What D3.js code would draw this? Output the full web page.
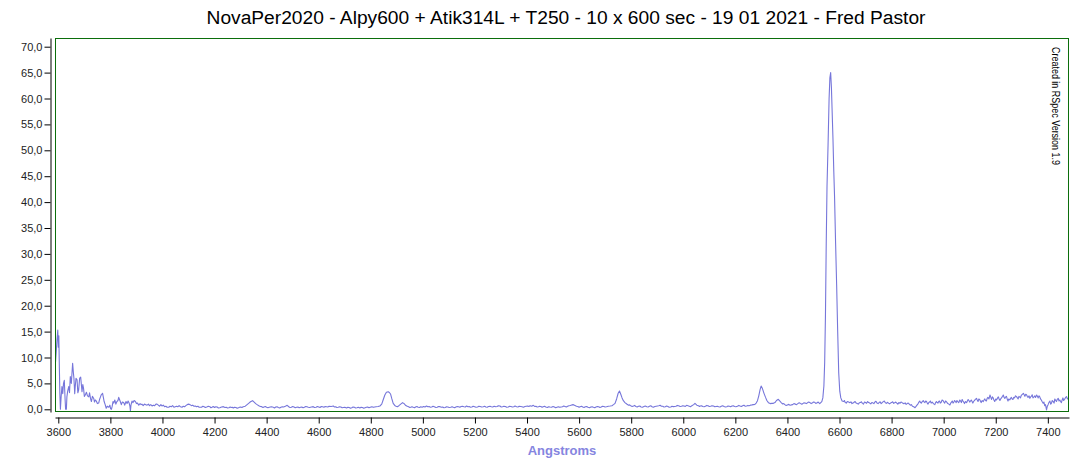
<!DOCTYPE html>
<html>
<head>
<meta charset="utf-8">
<script src="https://cdn.jsdelivr.net/npm/d3@7"></script>
<style>
  html, body { margin: 0; padding: 0; background: #fff; }
  svg { display: block; font-family: "Liberation Sans", Arial, sans-serif; }
</style>
</head>
<body>
<svg id="chart" width="1071" height="461"></svg>
<script>
const titleText = "NovaPer2020 - Alpy600 + Atik314L + T250 - 10 x 600 sec - 19 01 2021 - Fred Pastor";
const xLabel = "Angstroms";
const creditText = "Created in RSpec Version 1.9";
const xTicks = [3600,3800,4000,4200,4400,4600,4800,5000,5200,5400,5600,5800,6000,6200,6400,6600,6800,7000,7200,7400];
const yTicks = [0,5,10,15,20,25,30,35,40,45,50,55,60,65,70];
const xDomain = [3587.3, 7481.3];
const yDomain = [-0.52, 71.68];

// [wavelength (Angstrom), relative flux]
const blueEnd = [
[3588,8.2],[3592,11.0],[3595,13.5],[3598,15.3],[3600,12.0],[3602,14.2],[3604,8.2],[3606,3.0],[3608,0.0],[3611,2.5],
[3614,4.4],[3617,3.0],[3620,5.0],[3623,5.6],[3626,2.0],[3628,0.0],[3631,0.0],[3633,2.4],[3636,3.5],[3640,4.4],
[3643,3.2],[3646,6.3],[3650,5.0],[3655,8.9],[3658,7.0],[3660,6.0],[3663,3.0],[3665,4.4],[3668,6.0],[3672,5.7],
[3675,3.2],[3678,3.7],[3682,6.0],[3686,6.2],[3689,4.5],[3691,3.4],[3694,4.8],[3697,4.0],[3700,2.5],[3704,2.8],
[3708,3.3],[3712,2.6],[3717,2.4],[3720,3.2],[3724,2.0],[3727,1.5],[3731,2.5],[3736,2.1],[3739,1.4],[3742,1.8],
[3746,1.6],[3750,1.1],[3755,1.2],[3759,2.0],[3762,2.4],[3765,2.8],[3770,3.1],[3773,2.3],[3776,1.5],[3780,0.9],
[3784,0.2],[3788,0.6],[3794,0.4],[3798,0.8],[3801,0.1],[3804,0.0],[3807,0.6],[3810,1.5],[3813,1.2],[3817,1.8],
[3821,1.0],[3825,1.5],[3829,1.7],[3832,2.3],[3835,1.9],[3838,1.5],[3842,0.9],[3846,1.4],[3851,1.3],[3855,0.8],
[3860,1.5],[3864,1.1],[3868,1.6],[3872,1.2],[3875,0.6],[3877,-0.3],[3879,0.8],[3883,1.6],[3887,1.3],[3891,1.7],
[3896,1.5],[3900,1.1],[3904,1.2],[3909,0.8],[3914,1.1],[3918,0.9],[3921,1.0],[3926,0.7],[3931,1.0],[3936,0.9],
[3941,0.8],[3946,1.0],[3950,0.7],[3955,0.9],[3960,0.65],[3965,0.8],[3970,0.7],[3975,1.0],[3979,1.0],[3984,0.8],
[3989,0.6],[3994,0.9],[3998,0.65],[4003,0.8],[4008,0.5],[4013,0.6],[4018,0.4],[4024,0.4],[4029,0.6],[4034,0.5],
[4039,0.7],[4044,0.4],[4049,0.5],[4054,0.6],[4059,0.5],[4064,0.7],[4069,0.5],[4075,0.4],[4080,0.6],[4085,0.5],
[4090,0.7],[4095,0.9],[4101,1.0],[4106,0.9],[4111,0.7],[4116,0.8],[4121,0.6],[4126,0.65],[4131,0.5],[4136,0.6],
[4141,0.4],[4146,0.4]
];
const greenRegion = [
[4150,0.4],[4155,0.6],[4160,0.5],[4165,0.35],[4170,0.45],[4176,0.6],[4182,0.51],[4186,0.3],[4190,0.4],[4195,0.55],
[4200,0.35],[4205,0.5],[4210,0.45],[4215,0.25],[4220,0.3],[4227,0.45],[4234,0.51],[4240,0.35],[4245,0.4],[4250,0.25],
[4255,0.3],[4260,0.45],[4264,0.35],[4268,0.4],[4272,0.25],[4277,0.4],[4282,0.35],[4287,0.2],[4292,0.3],[4296,0.4],
[4300,0.45],[4305,0.35],[4310,0.51],[4318,0.6],[4325,0.9],[4332,1.2],[4338,1.45],[4346,1.67],[4352,1.4],[4358,1.1],
[4362,0.95],[4370,0.7],[4376,0.55],[4381,0.51],[4386,0.35],[4390,0.45],[4395,0.55],[4400,0.4],[4405,0.3],[4410,0.38],
[4418,0.5],[4426,0.38],[4430,0.25],[4435,0.45],[4440,0.5],[4445,0.35],[4450,0.25],[4455,0.4],[4460,0.5],[4465,0.45],
[4472,0.6],[4479,0.77],[4485,0.5],[4490,0.35],[4495,0.4],[4500,0.55],[4505,0.45],[4510,0.3],[4515,0.38],[4520,0.45],
[4525,0.3],[4530,0.4],[4535,0.45],[4540,0.3],[4545,0.4],[4550,0.55],[4555,0.5],[4560,0.4],[4565,0.35],[4572,0.45],
[4579,0.51],[4584,0.35],[4590,0.4],[4595,0.55],[4600,0.45],[4605,0.35],[4610,0.55],[4615,0.5],[4620,0.4],[4625,0.55],
[4630,0.5],[4635,0.45],[4640,0.6],[4648,0.55],[4656,0.64],[4660,0.45],[4665,0.5],[4670,0.35],[4675,0.4],[4680,0.5],
[4685,0.45],[4690,0.3],[4695,0.35],[4700,0.4],[4707,0.25],[4712,0.4],[4717,0.35],[4722,0.2],[4727,0.3],[4732,0.45],
[4737,0.4],[4742,0.25],[4747,0.3],[4752,0.4],[4758,0.25],[4763,0.4],[4768,0.35],[4773,0.2],[4778,0.3],[4783,0.4],
[4788,0.45],[4793,0.3],[4798,0.4],[4804,0.5],[4810,0.38],[4815,0.45],[4820,0.5],[4828,0.55],[4835,0.64],[4842,1.0],
[4848,1.9],[4854,2.76],[4860,3.3],[4867,3.4],[4872,3.2],[4876,2.95],[4881,2.0],[4886,1.15],[4892,0.75],[4897,0.6],
[4902,0.51],[4908,0.7],[4915,1.0],[4922,1.28],[4928,1.1],[4933,0.8],[4938,0.64],[4945,0.5],[4950,0.35],[4953,0.4],
[4958,0.5],[4963,0.38],[4968,0.3],[4972,0.45],[4977,0.55],[4982,0.4],[4987,0.35],[4992,0.5],[4997,0.4],[5003,0.55],
[5008,0.45],[5014,0.64],[5019,0.5],[5024,0.55],[5029,0.4],[5034,0.45],[5039,0.6],[5044,0.5],[5050,0.35],[5055,0.4],
[5060,0.55],[5066,0.51],[5071,0.4],[5076,0.45],[5081,0.3],[5086,0.35],[5091,0.5],[5096,0.45],[5101,0.35],[5107,0.4],
[5112,0.5],[5117,0.38],[5122,0.3],[5127,0.45],[5132,0.55],[5137,0.5],[5142,0.4],[5147,0.55],[5152,0.6],[5158,0.5],
[5163,0.45],[5168,0.64],[5173,0.5],[5178,0.55],[5183,0.4],[5188,0.45],[5193,0.6],[5199,0.5],[5204,0.4],[5210,0.45],
[5215,0.6],[5220,0.55],[5226,0.45],[5232,0.51],[5237,0.6],[5242,0.45],[5247,0.4],[5252,0.55],[5258,0.6],[5263,0.5],
[5268,0.45],[5274,0.6],[5280,0.5],[5285,0.55],[5290,0.7],[5296,0.64],[5301,0.45],[5306,0.5],[5311,0.6],[5317,0.55],
[5322,0.4],[5328,0.45],[5333,0.6],[5338,0.55],[5344,0.45],[5349,0.5],[5354,0.65],[5360,0.51],[5365,0.45],[5370,0.6],
[5376,0.55],[5381,0.5],[5386,0.4],[5392,0.55],[5397,0.6],[5402,0.65],[5407,0.55],[5412,0.7],[5418,0.6],[5424,0.77],
[5429,0.55],[5434,0.6],[5439,0.45],[5444,0.5],[5448,0.6],[5453,0.55],[5458,0.4],[5462,0.51],[5467,0.6],[5472,0.45],
[5478,0.35],[5483,0.5],[5488,0.45],[5494,0.4],[5500,0.55],[5505,0.45],[5510,0.3],[5515,0.4],[5520,0.5],[5526,0.38]
];
const yellowRegion = [
[5531,0.45],[5536,0.5],[5541,0.65],[5546,0.55],[5551,0.45],[5556,0.6],[5561,0.7],[5566,0.75],[5572,0.85],[5578,0.9],
[5582,0.8],[5586,0.7],[5590,0.6],[5595,0.55],[5600,0.4],[5604,0.51],[5609,0.6],[5614,0.45],[5619,0.35],[5624,0.5],
[5629,0.55],[5634,0.4],[5640,0.3],[5645,0.45],[5650,0.5],[5655,0.38],[5660,0.3],[5665,0.45],[5670,0.55],[5675,0.5],
[5680,0.35],[5685,0.45],[5690,0.6],[5695,0.55],[5700,0.45],[5705,0.5],[5712,0.6],[5719,0.64],[5726,0.7],[5732,0.9],
[5738,1.15],[5744,2.0],[5750,3.1],[5755,3.53],[5760,2.9],[5765,2.2],[5770,1.67],[5776,1.3],[5783,1.02],[5790,0.8],
[5794,0.85],[5798,0.7],[5804,0.55],[5809,0.64],[5813,0.75],[5818,0.55],[5823,0.45],[5828,0.6],[5833,0.65],[5838,0.45],
[5843,0.4],[5849,0.55],[5854,0.65],[5860,0.51],[5865,0.45],[5870,0.6],[5875,0.7],[5880,0.5],[5885,0.4],[5891,0.55],
[5896,0.6],[5901,0.65],[5906,0.7],[5911,0.77],[5916,0.6],[5921,0.6],[5926,0.45],[5931,0.5],[5936,0.65],[5941,0.55],
[5946,0.4],[5952,0.45],[5957,0.6],[5962,0.51],[5967,0.55],[5972,0.6],[5977,0.75],[5982,0.7],[5988,0.55],[5993,0.6],
[5998,0.7],[6003,0.65],[6008,0.55],[6013,0.77],[6018,0.7],[6023,0.6],[6028,0.5],[6033,0.7],[6040,0.9],[6045,1.15],
[6052,0.8],[6058,0.7],[6062,0.55],[6065,0.64],[6070,0.7],[6075,0.55],[6080,0.5],[6085,0.6],[6090,0.75],[6095,0.7],
[6100,0.55],[6105,0.6],[6110,0.7],[6116,0.64],[6121,0.5],[6126,0.55],[6131,0.6],[6136,0.5],[6141,0.45],[6146,0.6],
[6151,0.7],[6157,0.55],[6162,0.45],[6167,0.51],[6172,0.65],[6177,0.6],[6182,0.5],[6187,0.65],[6192,0.7],[6197,0.55],
[6202,0.5],[6208,0.6],[6213,0.75],[6218,0.64],[6223,0.55],[6228,0.7],[6233,0.8],[6238,0.6],[6243,0.65],[6248,0.75],
[6253,0.7],[6258,0.8],[6264,0.85],[6269,0.9],[6275,0.95],[6280,1.2],[6285,1.67],[6290,2.6],[6295,3.8],[6299,4.49],
[6304,4.0],[6310,3.08],[6316,2.3],[6321,1.7],[6327,1.28],[6334,1.1],[6340,1.15],[6346,1.15],[6352,1.3],[6358,1.7],
[6365,1.93],[6371,1.6],[6376,1.3],[6382,1.02],[6386,1.1],[6390,0.9],[6395,0.75],[6400,0.85],[6405,0.95],[6410,0.77],
[6415,0.85],[6420,0.9],[6425,1.1],[6430,1.0],[6435,0.9],[6440,1.1],[6445,1.25],[6449,1.15],[6454,1.0],[6458,1.05],
[6463,1.25],[6468,1.2],[6473,1.1],[6478,1.3],[6482,1.4],[6487,1.28],[6491,1.1],[6495,1.2],[6500,1.4],[6505,1.35],
[6509,1.15],[6513,1.2],[6517,1.4],[6520,1.3],[6524,1.1],[6527,1.25],[6532,1.5],[6536,2.2],[6540,4.5]
];
const hAlpha = [
[6543,9],[6546,18],[6549,32],[6552,43],[6556,51],[6560,60],[6563,64],[6566,65],[6569,62],[6572,57],
[6575,52],[6578,46],[6581,41],[6585,32],[6589,24],[6593,15],[6597,7],[6601,3.5],[6605,2.2],[6610,1.6],[6616,1.5]
];
const redRegion = [
[6619,1.7],[6622,1.3],[6626,1.2],[6630,1.5],[6635,1.4],[6640,1.28],[6644,1.45],[6648,1.1],[6652,1.2],[6656,1.35],
[6660,1.5],[6664,1.2],[6668,1.1],[6672,1.0],[6676,1.25],[6680,1.3],[6684,1.45],[6688,1.15],[6692,1.0],[6696,1.4],
[6700,1.3],[6704,1.16],[6708,1.5],[6712,1.3],[6716,1.2],[6720,1.05],[6724,1.3],[6728,1.25],[6732,1.1],[6736,1.4],
[6740,1.55],[6744,1.2],[6748,1.1],[6752,1.3],[6756,1.45],[6760,1.1],[6764,1.3],[6768,1.48],[6772,1.6],[6776,1.25],
[6780,1.15],[6784,1.35],[6788,1.2],[6792,1.05],[6796,1.2],[6800,1.3],[6804,1.45],[6808,1.15],[6812,1.25],[6816,1.4],
[6820,1.2],[6824,1.0],[6828,1.3],[6832,1.16],[6836,1.4],[6840,1.3],[6844,1.15],[6848,1.1],[6852,1.25],[6856,0.95],
[6860,1.1],[6864,1.2],[6868,1.0],[6872,0.8],[6876,0.9],[6880,0.6],[6885,0.5],[6890,0.3],[6896,0.7],[6902,1.1],
[6905,1.4],[6908,1.6],[6911,1.3],[6914,1.2],[6918,1.5],[6922,1.67],[6925,1.4],[6928,1.3],[6931,1.6],[6934,1.5],
[6937,1.2],[6940,1.0],[6943,1.3],[6946,1.4],[6949,1.6],[6952,1.2],[6956,1.4],[6960,1.16],[6963,1.0],[6966,0.9],
[6969,1.3],[6972,1.5],[6975,1.3],[6978,1.2],[6981,1.5],[6984,1.6],[6987,1.2],[6990,1.3],[6994,1.8],[6998,1.67],
[7001,1.4],[7004,1.2],[7007,1.6],[7010,1.5],[7013,1.3],[7016,1.1],[7020,1.0],[7024,0.84],[7027,1.2],[7030,1.4],
[7033,1.6],[7036,1.2],[7039,1.4],[7042,1.7],[7045,1.5],[7048,1.3],[7051,1.7],[7054,1.5],[7058,1.3],[7062,1.8],
[7065,1.6],[7068,1.3],[7071,1.9],[7074,1.6],[7077,1.4],[7080,1.1],[7084,1.5],[7088,1.28],[7091,1.6],[7094,1.9],
[7097,1.7],[7100,1.4],[7103,1.6],[7106,1.8],[7109,1.5],[7112,1.2],[7115,1.5],[7118,1.7],[7122,1.9],[7126,2.12],
[7129,1.8],[7132,1.5],[7135,2.0],[7138,1.9],[7141,1.6],[7144,1.3],[7148,1.7],[7152,1.48],[7155,1.8],[7158,2.0],
[7161,1.7],[7164,1.6],[7167,2.1],[7170,2.3],[7174,2.0],[7178,2.77],[7181,2.3],[7184,1.9],[7187,2.4],[7190,2.2],
[7193,1.8],[7196,1.5],[7200,2.0],[7203,1.8],[7206,2.1],[7210,2.4],[7213,2.0],[7216,1.7],[7219,2.0],[7222,2.2],
[7226,2.5],[7229,2.77],[7232,2.3],[7235,2.1],[7238,2.4],[7241,2.5],[7244,2.0],[7247,1.6],[7250,2.0],[7254,1.8],
[7257,2.1],[7260,2.3],[7263,2.0],[7266,1.9],[7269,2.3],[7272,2.2],[7276,2.6],[7280,2.45],[7283,2.2],[7286,2.0],
[7289,2.5],[7292,2.4],[7295,2.2],[7298,2.7],[7302,2.9],[7306,3.09],[7309,2.8],[7312,2.5],[7315,2.9],[7318,2.8],
[7321,2.5],[7324,2.3],[7328,2.6],[7331,2.12],[7334,2.4],[7337,2.5],[7340,2.8],[7343,2.2],[7347,2.4],[7350,2.6],
[7353,2.3],[7357,2.77],[7360,2.5],[7363,2.2],[7366,2.6],[7369,2.4],[7372,2.0],[7375,1.8],[7378,1.5],[7382,1.16],
[7385,1.4],[7388,0.7],[7391,0.9],[7395,-0.13],[7398,0.6],[7401,0.9],[7404,1.3],[7408,1.6],[7411,1.0],[7414,1.2],
[7417,1.7],[7421,1.48],[7424,1.2],[7427,2.0],[7430,1.7],[7433,1.5],[7436,1.9],[7440,2.1],[7443,1.6],[7446,1.8],
[7449,1.5],[7452,1.3],[7455,1.8],[7458,2.2],[7461,1.7],[7464,1.9],[7468,2.3],[7472,2.45],[7475,2.0],[7478,2.1],[7482,2.3]
];

const spectrum = [...blueEnd, ...greenRegion, ...yellowRegion, ...hAlpha, ...redRegion];

const svg = d3.select("#chart");
const frame = {left: 55, top: 38, right: 1069, bottom: 412};
const x = d3.scaleLinear().domain(xDomain).range([frame.left, frame.right]);
const y = d3.scaleLinear().domain(yDomain).range([frame.bottom, frame.top]);

svg.append("rect").attr("width", 1071).attr("height", 461).attr("fill", "#fff");

// title
svg.append("text")
  .attr("x", 566).attr("y", 24)
  .attr("text-anchor", "middle")
  .attr("font-size", 19.2)
  .attr("fill", "#000")
  .text(titleText);

svg.append("defs").append("clipPath").attr("id", "clip")
  .append("rect")
  .attr("x", frame.left).attr("y", frame.top)
  .attr("width", frame.right - frame.left).attr("height", frame.bottom - frame.top);

// spectrum
svg.append("path")
  .datum(spectrum)
  .attr("clip-path", "url(#clip)")
  .attr("fill", "none")
  .attr("stroke", "#7676da")
  .attr("stroke-width", 1.1)
  .attr("stroke-linejoin", "round")
  .attr("d", d3.line().x(d => x(d[0])).y(d => y(d[1])));

// frame
svg.append("rect")
  .attr("x", frame.left + 0.5).attr("y", frame.top + 0.5)
  .attr("width", frame.right - frame.left - 1).attr("height", frame.bottom - frame.top - 1)
  .attr("fill", "none").attr("stroke", "#0b6e0b").attr("stroke-width", 1);

// y axis
const fmt = v => d3.format(".1f")(v).replace(".", ",");
const yAxis = d3.axisLeft(y).tickValues(yTicks).tickFormat(fmt).tickSize(6).tickSizeOuter(0).tickPadding(2);
const gy = svg.append("g").attr("transform", "translate(50.5,0)").call(yAxis);
gy.selectAll("text").attr("font-size", 11).attr("font-family", "Liberation Sans, Arial, sans-serif").attr("fill", "#222");
gy.selectAll("line, path").attr("stroke", "#000");

// x axis
const xAxis = d3.axisBottom(x).tickValues(xTicks).tickFormat(d3.format("d")).tickSize(6).tickSizeOuter(0).tickPadding(5);
const gx = svg.append("g").attr("transform", "translate(0,417.5)").call(xAxis);
gx.selectAll("text").attr("font-size", 11).attr("font-family", "Liberation Sans, Arial, sans-serif").attr("fill", "#222");
gx.selectAll("line, path").attr("stroke", "#000");

// x label
svg.append("text")
  .attr("x", 562).attr("y", 455)
  .attr("text-anchor", "middle")
  .attr("font-size", 13).attr("font-weight", "bold")
  .attr("fill", "#8585e0")
  .text(xLabel);

// credit
svg.append("text")
  .attr("transform", "translate(1052,47) rotate(90)")
  .attr("font-size", 10)
  .attr("textLength", 118)
  .attr("lengthAdjust", "spacingAndGlyphs")
  .attr("fill", "#000")
  .text(creditText);
</script>
</body>
</html>
